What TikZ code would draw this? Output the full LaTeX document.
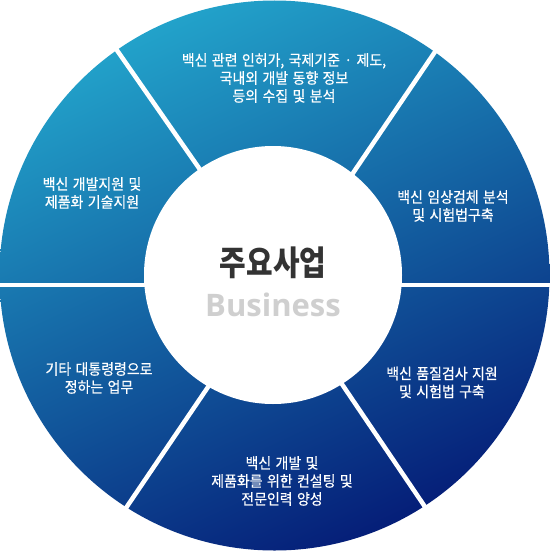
\documentclass[tikz,border=0pt]{standalone}
\usepackage{fontspec}
\newfontfamily\segfont[FakeStretch=0.93,WordSpace=1.4,FakeBold=0.5]{Noto Sans CJK KR}
\newfontfamily\titlefont[FakeStretch=0.85]{Noto Sans CJK KR}
\newfontfamily\latinfont{Open Sans}
\definecolor{ringtop}{RGB}{34,162,202}
\definecolor{ringmid}{RGB}{16,84,158}
\definecolor{ringbot}{RGB}{5,30,120}
\definecolor{titlegray}{RGB}{51,51,51}
\definecolor{busgray}{RGB}{207,207,207}
\tikzset{
  seg/.style={text=white, align=center, inner sep=0pt,
    font=\segfont\fontsize{15}{18}\selectfont},
  gap/.style={draw=white, line width=4.5pt},
}
\begin{document}
\begin{tikzpicture}[x=1pt,y=-1pt]
\useasboundingbox (0,0) rectangle (549,551);
% ring
\shade[top color=ringtop, middle color=ringmid, bottom color=ringbot, shading angle=25]
  (274.5,275.5) circle[radius=275pt];
% separators
\draw[gap] (82,0) -- (256,250);
\draw[gap] (470,0) -- (301,250);
\draw[gap] (-5,285) -- (555,285);
\draw[gap] (90.7,560) -- (267,300);
\draw[gap] (461,560) -- (285,300);
% inner circle
\fill[white] (273,275) circle[radius=129pt];
% centre text
\node[inner sep=0pt, text=titlegray, font=\titlefont\bfseries\fontsize{34}{40}\selectfont] (title) at (273,263) {주요사업};
\node[inner sep=0pt, text=busgray, font=\latinfont\bfseries\fontsize{31}{38}\selectfont] (bus) at (273,305) {Business};
% segment texts
\node[seg] (s1) at (284,78) {백신 관련 인허가, 국제기준 · 제도,\\국내외 개발 동향 정보\\등의 수집 및 분석};
\node[seg] (s2) at (453,206) {백신 임상검체 분석\\및 시험법구축};
\node[seg] (s3) at (442,382.5) {백신 품질검사 지원\\및 시험법 구축};
\node[seg] (s4) at (282,481) {백신 개발 및\\제품화를 위한 컨설팅 및\\전문인력 양성};
\node[seg] (s5) at (99,378) {기타 대통령령으로\\정하는 업무};
\node[seg] (s6) at (92,193) {백신 개발지원 및\\제품화 기술지원};
\end{tikzpicture}
\end{document}
